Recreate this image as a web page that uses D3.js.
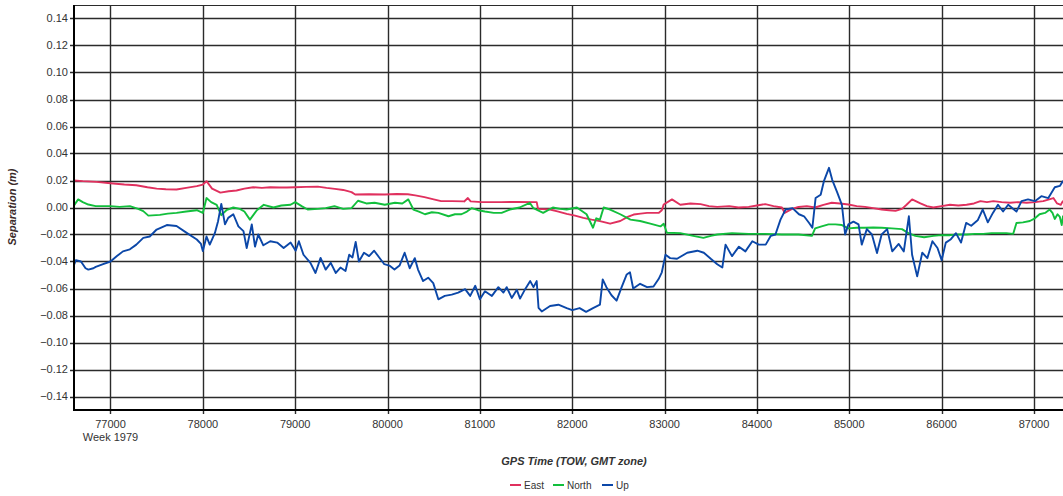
<!DOCTYPE html>
<html>
<head>
<meta charset="utf-8">
<script src="https://cdn.jsdelivr.net/npm/d3@7"></script>
<style>
html,body{margin:0;padding:0;background:#fff;}
svg{display:block;font-family:"Liberation Sans",Arial,sans-serif;}
</style>
</head>
<body>
<svg id="chart" width="1063" height="496"></svg>
<script>
// ---- data ----
const seriesNames = ["East", "North", "Up"];
const xTicks = [77000, 78000, 79000, 80000, 81000, 82000, 83000, 84000, 85000, 86000, 87000];
const yTicks = [-0.14, -0.12, -0.10, -0.08, -0.06, -0.04, -0.02, 0.00, 0.02, 0.04, 0.06, 0.08, 0.10, 0.12, 0.14];
const weekLabel = "Week 1979";

const eastTime = [76600,76700,76850,77000,77150,77280,77400,77500,77600,77715,77820,77935,78000,78040,78100,78190,78280,78365,78450,78545,78640,78730,78830,78910,79000,79120,79245,79340,79430,79520,79610,79650,79800,79970,80100,80220,80300,80400,80500,80580,80700,80830,80870,80900,81020,81230,81400,81615,81630,81760,81850,81940,82030,82120,82210,82300,82410,82520,82600,82665,82740,82810,82935,82970,82990,83080,83170,83280,83390,83480,83570,83700,83800,83910,84000,84090,84180,84270,84300,84380,84450,84540,84630,84720,84810,84900,84990,85080,85170,85260,85350,85430,85500,85570,85620,85680,85770,85840,85910,86000,86090,86180,86270,86350,86420,86490,86560,86650,86740,86830,86920,87010,87100,87210,87250,87290,87315];
const eastVal = [0.020,0.0195,0.019,0.018,0.017,0.0165,0.015,0.014,0.0135,0.0133,0.0145,0.0158,0.017,0.0195,0.014,0.011,0.012,0.0126,0.014,0.015,0.0145,0.015,0.0148,0.0148,0.015,0.0153,0.0155,0.0145,0.0138,0.013,0.0114,0.0096,0.0098,0.0096,0.0100,0.0098,0.0090,0.0077,0.006,0.0047,0.0047,0.0045,0.007,0.0045,0.004,0.004,0.0042,0.004,-0.001,-0.0015,-0.003,-0.0047,-0.006,-0.0077,-0.009,-0.0101,-0.012,-0.010,-0.007,-0.0052,-0.0045,-0.004,-0.004,-0.002,0.0022,0.006,0.002,0.003,0.0025,0.001,0.0005,0.001,0.0,0.0005,0.0015,0.0025,0.001,0.0,-0.004,-0.001,0.0004,0.001,0.0,0.002,0.0035,0.003,0.0022,0.001,0.0005,-0.0005,-0.0015,-0.002,-0.0025,-0.001,0.002,0.006,0.003,0.001,0.0,0.001,0.002,0.0015,0.002,0.003,0.0047,0.004,0.0047,0.004,0.0035,0.004,0.0035,0.004,0.0047,0.007,0.003,0.002,0.005];

const northTime = [76600,76650,76700,76760,76840,77000,77100,77210,77300,77355,77410,77535,77620,77715,77820,77935,78000,78040,78090,78150,78200,78255,78330,78400,78450,78510,78585,78660,78765,78850,78950,79000,79070,79135,79245,79330,79425,79520,79610,79680,79770,79860,79970,80080,80160,80225,80280,80340,80405,80480,80550,80660,80730,80800,80860,80910,80980,81055,81150,81235,81325,81430,81540,81580,81685,81790,81870,81940,82050,82155,82225,82260,82300,82340,82410,82520,82630,82735,82845,82955,82990,83025,83170,83310,83420,83500,83570,83730,83910,84090,84270,84450,84595,84630,84700,84775,84850,84920,84990,85080,85170,85260,85350,85460,85570,85640,85715,85810,85910,86000,86090,86180,86270,86360,86450,86540,86630,86700,86775,86810,86880,86955,87010,87060,87120,87170,87200,87225,87255,87280,87300,87315];
const northVal = [0.001,0.006,0.004,0.0022,0.001,0.001,0.0005,0.001,-0.001,-0.0027,-0.006,-0.0055,-0.0045,-0.004,-0.003,-0.002,-0.004,0.007,0.004,0.002,-0.0057,-0.002,0.0,-0.001,-0.003,-0.009,-0.002,0.002,0.0,0.0015,0.002,0.004,0.001,-0.0015,-0.001,-0.0005,0.001,-0.001,-0.0005,0.005,0.003,0.0035,0.002,0.0035,0.003,0.006,-0.0015,-0.003,-0.005,-0.0035,-0.004,-0.0065,-0.005,-0.005,-0.003,-0.0005,-0.002,-0.003,-0.004,-0.004,-0.0015,0.0,0.0035,-0.0005,-0.004,0.0,-0.001,-0.0015,0.0,-0.005,-0.015,-0.008,-0.009,0.0,-0.0015,-0.005,-0.009,-0.010,-0.012,-0.014,-0.012,-0.0187,-0.019,-0.021,-0.0225,-0.021,-0.020,-0.019,-0.0195,-0.0195,-0.020,-0.020,-0.021,-0.0155,-0.014,-0.0125,-0.0125,-0.013,-0.0155,-0.015,-0.015,-0.0148,-0.015,-0.0155,-0.016,-0.019,-0.021,-0.022,-0.021,-0.0205,-0.0205,-0.020,-0.020,-0.0195,-0.0195,-0.019,-0.019,-0.019,-0.0195,-0.0115,-0.011,-0.010,-0.008,-0.005,-0.004,-0.0015,-0.004,-0.0085,-0.005,-0.007,-0.013,-0.006];

const upTime = [76600,76625,76680,76730,76760,76815,76840,76920,77000,77070,77135,77210,77280,77355,77425,77500,77610,77715,77825,77935,77980,78000,78040,78075,78130,78165,78200,78240,78275,78330,78385,78440,78475,78530,78565,78600,78655,78730,78805,78875,78930,78950,79005,79040,79090,79165,79220,79275,79330,79385,79440,79490,79545,79585,79620,79655,79690,79745,79800,79855,79910,79965,80020,80075,80130,80185,80240,80295,80330,80385,80440,80495,80550,80620,80695,80765,80840,80895,80950,81000,81055,81130,81200,81255,81290,81345,81400,81435,81490,81545,81580,81615,81635,81670,81760,81850,81940,82000,82080,82150,82225,82300,82330,82370,82425,82480,82535,82590,82625,82660,82735,82810,82880,82935,82970,83010,83060,83135,83245,83355,83425,83500,83570,83625,83660,83730,83805,83875,83950,84020,84095,84150,84200,84255,84310,84385,84455,84510,84565,84600,84635,84690,84725,84780,84815,84870,84920,84955,84990,85045,85100,85135,85190,85245,85300,85350,85410,85465,85535,85590,85645,85680,85735,85790,85845,85900,85955,86000,86045,86100,86155,86210,86265,86320,86390,86445,86500,86555,86610,86665,86720,86810,86865,86935,87010,87080,87155,87225,87280,87315];
const upVal = [-0.0435,-0.039,-0.040,-0.045,-0.046,-0.045,-0.044,-0.042,-0.040,-0.036,-0.0325,-0.031,-0.0275,-0.0225,-0.0215,-0.0163,-0.013,-0.0137,-0.0188,-0.0237,-0.027,-0.0323,-0.0215,-0.0275,-0.019,-0.0101,0.0027,-0.0125,-0.0077,-0.005,-0.014,-0.0175,-0.030,-0.0125,-0.029,-0.020,-0.028,-0.025,-0.026,-0.030,-0.027,-0.026,-0.032,-0.025,-0.035,-0.041,-0.0485,-0.0373,-0.046,-0.041,-0.0485,-0.0445,-0.047,-0.035,-0.037,-0.0255,-0.040,-0.0335,-0.036,-0.032,-0.037,-0.042,-0.043,-0.046,-0.043,-0.0335,-0.045,-0.0375,-0.046,-0.0545,-0.052,-0.056,-0.068,-0.0655,-0.0645,-0.063,-0.0605,-0.0655,-0.058,-0.068,-0.062,-0.0655,-0.059,-0.063,-0.059,-0.067,-0.061,-0.0675,-0.0605,-0.0545,-0.059,-0.0545,-0.0743,-0.077,-0.073,-0.072,-0.0745,-0.076,-0.0745,-0.0773,-0.0745,-0.072,-0.0533,-0.059,-0.065,-0.069,-0.059,-0.0496,-0.048,-0.060,-0.0565,-0.059,-0.0585,-0.053,-0.048,-0.035,-0.0375,-0.038,-0.0335,-0.032,-0.0335,-0.038,-0.042,-0.0445,-0.0275,-0.036,-0.029,-0.0325,-0.025,-0.0275,-0.0275,-0.021,-0.020,-0.009,-0.0015,-0.0005,-0.005,-0.0065,-0.0115,-0.015,0.007,0.0095,0.0195,0.0294,0.0205,0.011,0.002,-0.020,-0.0125,-0.0105,-0.0125,-0.0275,-0.016,-0.020,-0.0337,-0.020,-0.016,-0.0325,-0.027,-0.0325,-0.0065,-0.035,-0.051,-0.0335,-0.0375,-0.025,-0.030,-0.039,-0.026,-0.0235,-0.019,-0.026,-0.0114,-0.0135,-0.0095,-0.0015,-0.011,-0.004,0.002,-0.003,0.002,-0.003,0.0047,0.006,0.0047,0.0084,0.007,0.015,0.016,0.0198];

const seriesColors = ["#e0305e", "#12bf3c", "#0b47a8"];

// ---- layout ----
const svg = d3.select("#chart");
const plot = {left: 74, right: 1063, top: 5, bottom: 410};

const x = d3.scaleLinear().domain([76605, 87314]).range([plot.left, plot.right]);
const y = d3.scaleLinear().domain([-0.15, 0.15]).range([plot.bottom, plot.top]);

svg.append("defs").append("clipPath").attr("id", "clip")
  .append("rect").attr("x", plot.left).attr("y", plot.top)
  .attr("width", plot.right - plot.left).attr("height", plot.bottom - plot.top);

// grid lines
const grid = svg.append("g");
grid.selectAll("line.h").data(yTicks).join("line")
  .attr("x1", plot.left - 4).attr("x2", plot.right)
  .attr("y1", d => Math.round(y(d)) + 0.5).attr("y2", d => Math.round(y(d)) + 0.5)
  .attr("stroke", "#2b2b2b").attr("stroke-width", 1.4);
grid.selectAll("line.v").data(xTicks).join("line")
  .attr("y1", plot.top).attr("y2", plot.bottom + 4)
  .attr("x1", d => Math.round(x(d)) + 0.5).attr("x2", d => Math.round(x(d)) + 0.5)
  .attr("stroke", "#2b2b2b").attr("stroke-width", 1.4);
// top border
grid.append("line").attr("x1", plot.left).attr("x2", plot.right)
  .attr("y1", plot.top + 0.5).attr("y2", plot.top + 0.5)
  .attr("stroke", "#2b2b2b").attr("stroke-width", 1.2);

// series
const seriesData = [
  d3.zip(eastTime, eastVal),
  d3.zip(northTime, northVal),
  d3.zip(upTime, upVal)
];
const line = d3.line().x(d => x(d[0])).y(d => y(d[1]));
const lines = svg.append("g").attr("clip-path", "url(#clip)");
seriesData.forEach((data, i) => {
  lines.append("path").datum(data)
    .attr("fill", "none").attr("stroke", seriesColors[i])
    .attr("stroke-width", 1.9).attr("stroke-linejoin", "round")
    .attr("d", line);
});

// axes lines
svg.append("line").attr("x1", plot.left).attr("x2", plot.left)
  .attr("y1", plot.top).attr("y2", plot.bottom + 1)
  .attr("stroke", "#000").attr("stroke-width", 2);
svg.append("line").attr("x1", plot.left - 1).attr("x2", plot.right)
  .attr("y1", plot.bottom).attr("y2", plot.bottom)
  .attr("stroke", "#000").attr("stroke-width", 2);

// y tick labels
const yFmt = d3.format(".2f");
svg.append("g").selectAll("text").data(yTicks).join("text")
  .attr("x", 68).attr("y", d => y(d)).attr("dy", "0.35em")
  .attr("text-anchor", "end").attr("font-size", 11).attr("fill", "#333")
  .text(d => yFmt(d).replace("-", "-"));

// x tick labels
svg.append("g").selectAll("text").data(xTicks).join("text")
  .attr("x", d => x(d)).attr("y", 428)
  .attr("text-anchor", "middle").attr("font-size", 11).attr("fill", "#333")
  .text(d => String(d));
svg.append("text").attr("x", x(xTicks[0])).attr("y", 441)
  .attr("text-anchor", "middle").attr("font-size", 11).attr("fill", "#333")
  .text(weekLabel);

// axis titles
svg.append("text").attr("x", 574).attr("y", 465)
  .attr("text-anchor", "middle").attr("font-size", 11)
  .attr("font-weight", "bold").attr("font-style", "italic").attr("fill", "#333")
  .text("GPS Time (TOW, GMT zone)");
svg.append("text").attr("transform", "translate(16,207) rotate(-90)")
  .attr("text-anchor", "middle").attr("font-size", 11)
  .attr("font-weight", "bold").attr("font-style", "italic").attr("fill", "#3a2a2a")
  .text("Separation (m)");

// legend
const legendX = [510, 553, 602];
const lg = svg.append("g");
seriesNames.forEach((name, i) => {
  lg.append("line").attr("x1", legendX[i]).attr("x2", legendX[i] + 11)
    .attr("y1", 485).attr("y2", 485)
    .attr("stroke", seriesColors[i]).attr("stroke-width", 2);
  lg.append("text").attr("x", legendX[i] + 14).attr("y", 485).attr("dy", "0.35em")
    .attr("font-size", 10).attr("fill", "#333").text(name);
});
</script>
</body>
</html>
